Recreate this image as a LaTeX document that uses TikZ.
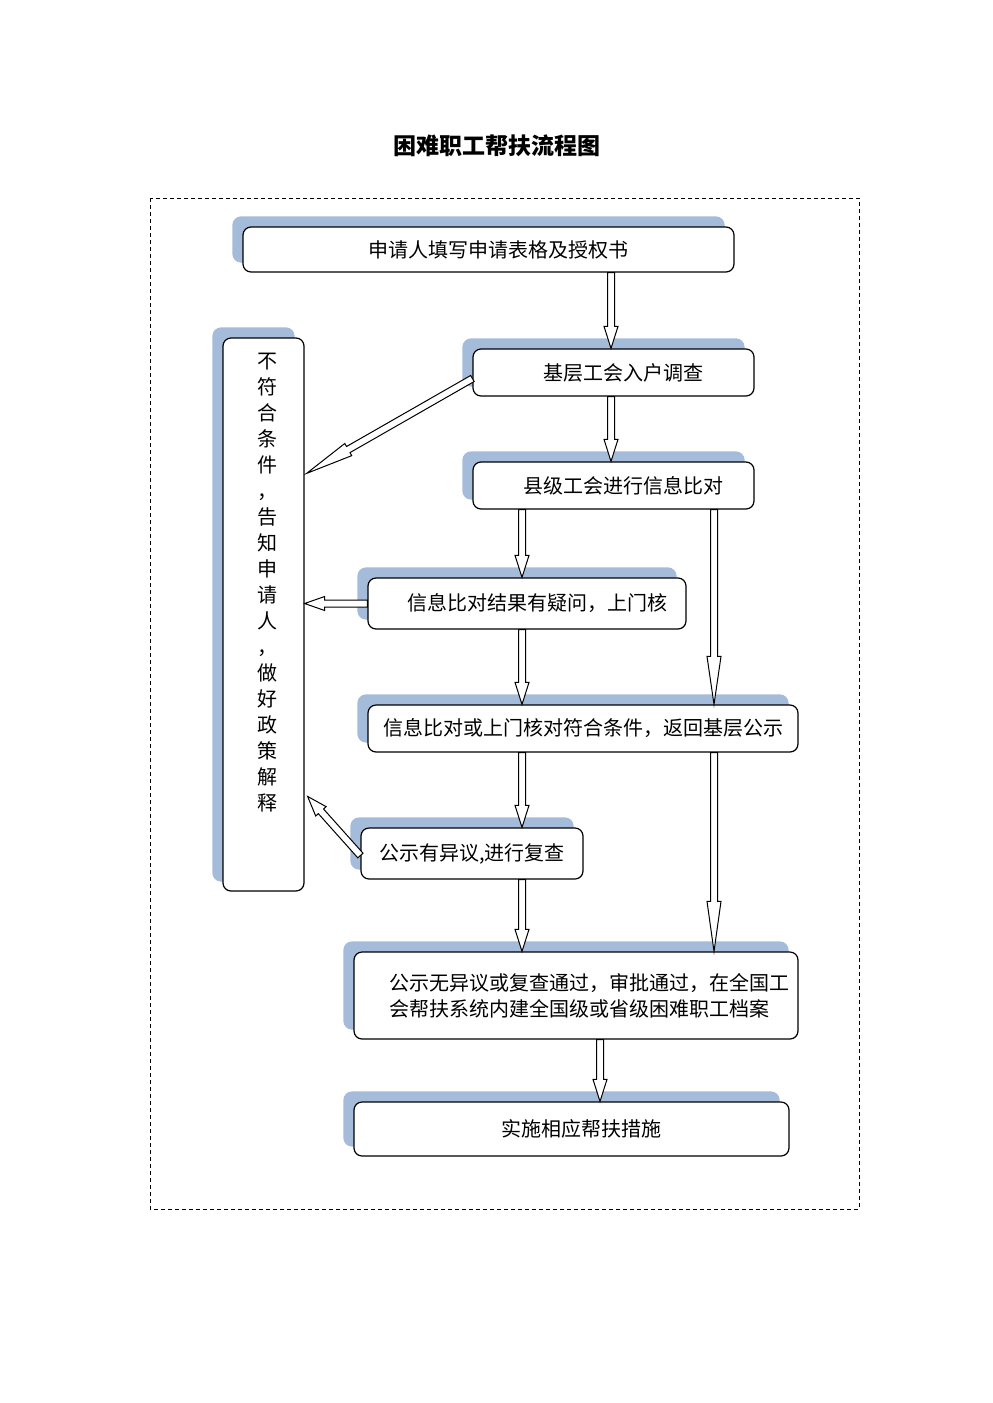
\documentclass[tikz,border=0pt]{standalone}
\usepackage{fontspec}
\setmainfont{Noto Sans CJK SC}
\usetikzlibrary{calc,shadows}

\definecolor{shadeblue}{RGB}{165,187,218}

\tikzset{
    flowbox/.style={draw, line width=0.6pt, rounded corners=4pt, fill=white, inner sep=0pt,
        copy shadow={shadow xshift=-5pt, shadow yshift=5pt, fill=shadeblue, draw=shadeblue},
        font=\fontsize{10}{13}\selectfont},
    padbox/.style={flowbox, execute at begin node={\hspace*{10pt}}},
    arrowline/.style={draw, fill=white, line width=0.5pt, line join=miter}
}

% hollow block arrow: [head length]{from}{to}
\newcommand{\blockarrow}[3][11pt]{%
    \path (#2) coordinate (ha) (#3) coordinate (hb);
    \path ($(hb)!#1!(ha)$) coordinate (hc);
    \draw[arrowline] ($(ha)!1.75pt!90:(hb)$) -- ($(hc)!1.75pt!-90:(ha)$)
        -- ($(hc)!3.5pt!-90:(ha)$) -- (hb) -- ($(hc)!3.5pt!90:(ha)$)
        -- ($(hc)!1.75pt!90:(ha)$) -- ($(ha)!1.75pt!-90:(hb)$) -- cycle;
}

\begin{document}
\begin{tikzpicture}[x=0.5pt, y=-0.5pt]

\useasboundingbox (0,0) rectangle (992,1403);

\node[font=\fontsize{11.5}{14}\selectfont\bfseries] (title) at (497,146) {困难职工帮扶流程图};

\draw[line width=0.5pt, dash pattern=on 2pt off 1.5pt] (150,198) rectangle (859,1209);

% columns of the arrows
\coordinate (colL) at (522,0);
\coordinate (colM) at (611,0);
\coordinate (colR) at (714,0);
\coordinate (colG) at (600,0);

\node[padbox, minimum width=245.5pt, minimum height=22.5pt] (apply) at (488.5,249.5) {申请人填写申请表格及授权书};
\node[padbox, minimum width=140.5pt, minimum height=23.5pt] (visit) at (613.5,372.5) {基层工会入户调查};
\node[padbox, minimum width=140.5pt, minimum height=23.5pt] (county) at (613.5,485.5) {县级工会进行信息比对};
\node[padbox, minimum width=159pt, minimum height=25.5pt] (doubt) at (527,603.5) {信息比对结果有疑问，上门核};
\node[flowbox, minimum width=215pt, minimum height=23.5pt] (notice) at (583,728.5) {信息比对或上门核对符合条件，返回基层公示};
\node[flowbox, minimum width=111pt, minimum height=25.5pt] (recheck) at (472,853.5) {公示有异议,进行复查};
\node[flowbox, minimum width=222pt, minimum height=43.5pt, align=left] (archive) at (576,995.5)
    {\hspace*{13pt}公示无异议或复查通过，审批通过，在全国工\\ \hspace*{13pt}会帮扶系统内建全国级或省级困难职工档案};
\node[padbox, minimum width=217.5pt, minimum height=27pt] (help) at (571.5,1129) {实施相应帮扶措施};

\node[flowbox, minimum width=40.5pt, minimum height=276.5pt] (reject) at (263.5,614.5) {};
\node[align=center, font=\fontsize{10}{13}\selectfont] (rejecttext) at (267,583)
    {不\\符\\合\\条\\件\\，\\告\\知\\申\\请\\人\\，\\做\\好\\政\\策\\解\\释};

\blockarrow{apply.south -| colM}{visit.north -| colM}
\blockarrow{visit.south -| colM}{county.north -| colM}
\blockarrow[24pt]{$(visit.west)+(0,6)$}{$(reject.north east)+(2,136)$}
\blockarrow{county.south -| colL}{doubt.north -| colL}
\blockarrow[24pt]{county.south -| colR}{notice.north -| colR}
\blockarrow[10pt]{doubt.west}{reject.east |- doubt.west}
\blockarrow{doubt.south -| colL}{notice.north -| colL}
\blockarrow{notice.south -| colL}{recheck.north -| colL}
\blockarrow[25pt]{notice.south -| colR}{archive.north -| colR}
\blockarrow[10pt]{$(recheck.west)+(0,2)$}{$(reject.north east)+(3,459)$}
\blockarrow{recheck.south -| colL}{archive.north -| colL}
\blockarrow{archive.south -| colG}{help.north -| colG}

\end{tikzpicture}
\end{document}
